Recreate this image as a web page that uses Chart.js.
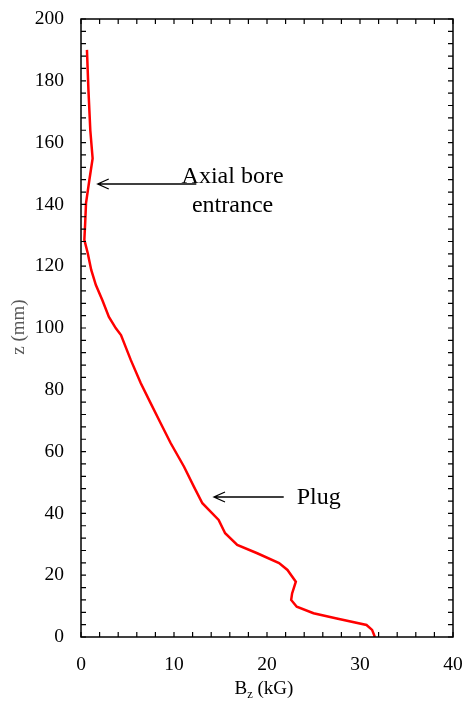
<!DOCTYPE html>
<html>
<head>
<meta charset="utf-8">
<script src="https://cdn.jsdelivr.net/npm/chart.js@4.4.1/dist/chart.umd.min.js"></script>
<style>
  html, body { margin: 0; padding: 0; background: #fff; }
  #wrap { width: 465px; height: 702px; }
</style>
</head>
<body>
<div id="wrap"><canvas id="c" width="465" height="702"></canvas></div>
<script>
// z position (mm) and axial field Bz (kG)
const zVals = [0, 2.3, 3.9, 6.0, 7.7, 9.8, 12.0, 14.1, 17.9, 21.7, 23.9, 27.1, 29.8, 33.6, 37.9,
    43.3, 48.6, 55.1, 62.7, 69.1, 75.6, 82.1, 89.6, 97.7, 99.9, 103.6, 109, 113.9, 118.8,
    124.3, 128.5, 134, 140.4, 147.9, 154.9, 164, 177, 190];
const bzVals = [31.6, 31.3, 30.7, 27.5, 25.0, 23.2, 22.6, 22.7, 23.1, 22.2, 21.3, 18.95, 16.8, 15.5, 14.8,
    13.05, 12.15, 11.08, 9.65, 8.58, 7.5, 6.43, 5.36, 4.3, 3.75, 3.0, 2.3, 1.6, 1.1,
    0.72, 0.36, 0.45, 0.54, 0.9, 1.25, 1.0, 0.8, 0.64];

const xTicks = [0, 10, 20, 30, 40];
const yTicks = [0, 20, 40, 60, 80, 100, 120, 140, 160, 180, 200];

// annotation texts with arrows
const notes = [
    { lines: ['Axial bore', 'entrance'], align: 'center', tx: 16.3, ty: [149.5, 140.2], fromX: 12.4, toX: 1.8, y: 146.6 },
    { lines: ['Plug'], align: 'left', tx: 23.2, ty: [45.6], fromX: 21.8, toX: 14.3, y: 45.3 },
];

const SERIF = '"Liberation Serif", "Times New Roman", serif';

const frame = {
    id: 'frame',
    afterDraw(chart) {
        const { ctx, chartArea: a, scales: { x, y } } = chart;
        ctx.save();
        ctx.strokeStyle = '#000';
        ctx.lineWidth = 1.5;
        ctx.strokeRect(a.left, a.top, a.right - a.left, a.bottom - a.top);

        // inward minor ticks on all four sides
        ctx.lineWidth = 1.2;
        ctx.beginPath();
        for (let v = 0; v <= 40; v += 2) {
            const px = x.getPixelForValue(v);
            ctx.moveTo(px, a.bottom); ctx.lineTo(px, a.bottom - 5);
            ctx.moveTo(px, a.top); ctx.lineTo(px, a.top + 5);
        }
        for (let v = 0; v <= 200; v += 4) {
            const py = y.getPixelForValue(v);
            ctx.moveTo(a.left, py); ctx.lineTo(a.left + 5, py);
            ctx.moveTo(a.right, py); ctx.lineTo(a.right - 5, py);
        }
        ctx.stroke();

        // annotations
        ctx.fillStyle = '#000';
        ctx.font = '24px ' + SERIF;
        notes.forEach(n => {
            const py = y.getPixelForValue(n.y);
            const x0 = x.getPixelForValue(n.fromX);
            const x1 = x.getPixelForValue(n.toX);
            ctx.lineWidth = 1.3;
            ctx.beginPath();
            ctx.moveTo(x0, py); ctx.lineTo(x1, py);
            ctx.moveTo(x1 + 11, py - 5); ctx.lineTo(x1, py); ctx.lineTo(x1 + 11, py + 5);
            ctx.stroke();
            ctx.textAlign = n.align;
            ctx.textBaseline = 'alphabetic';
            n.lines.forEach((t, i) => {
                ctx.fillText(t, x.getPixelForValue(n.tx), y.getPixelForValue(n.ty[i]) + 8);
            });
        });

        // x axis title with subscript
        ctx.textAlign = 'left';
        const cx = (a.left + a.right) / 2 - 3;
        ctx.font = '19px ' + SERIF;
        const wB = ctx.measureText('B').width;
        const wRest = ctx.measureText(' (kG)').width;
        ctx.font = '12.5px ' + SERIF;
        const wz = ctx.measureText('z').width;
        const sx = cx - (wB + wz + wRest) / 2;
        const by = 694;
        ctx.font = '19px ' + SERIF;
        ctx.fillText('B', sx, by);
        ctx.fillText(' (kG)', sx + wB + wz, by);
        ctx.font = '12.5px ' + SERIF;
        ctx.fillText('z', sx + wB, by + 4);

        // y axis title
        ctx.translate(24, 327);
        ctx.rotate(-Math.PI / 2);
        ctx.textAlign = 'center';
        ctx.fillStyle = '#595959';
        ctx.font = '19px ' + SERIF;
        ctx.fillText('z (mm)', 0, 0);
        ctx.restore();
    }
};

new Chart(document.getElementById('c'), {
    type: 'scatter',
    data: {
        datasets: [{
            data: zVals.map((z, i) => ({ x: bzVals[i], y: z })),
            showLine: true,
            borderColor: '#ff0000',
            borderWidth: 2.5,
            pointRadius: 0,
            tension: 0,
            fill: false,
        }]
    },
    options: {
        responsive: false,
        animation: false,
        layout: { padding: { top: 19, right: 12, left: 0, bottom: 0 } },
        plugins: { legend: { display: false }, tooltip: { enabled: false } },
        scales: {
            x: {
                type: 'linear', min: 0, max: 40,
                afterFit: s => { s.height = 65; s.paddingLeft = 0; s.paddingRight = 0; },
                afterBuildTicks: s => { s.ticks = xTicks.map(v => ({ value: v })); },
                grid: { display: false },
                border: { display: false },
                ticks: { color: '#000', padding: 8, font: { family: SERIF, size: 19.5 } },
            },
            y: {
                type: 'linear', min: 0, max: 200,
                afterFit: s => { s.width = 81; s.paddingTop = 0; s.paddingBottom = 0; },
                afterBuildTicks: s => { s.ticks = yTicks.map(v => ({ value: v })); },
                grid: { display: false },
                border: { display: false },
                ticks: { color: '#000', padding: 9, font: { family: SERIF, size: 19.5 } },
            }
        }
    },
    plugins: [frame]
});
</script>
</body>
</html>
